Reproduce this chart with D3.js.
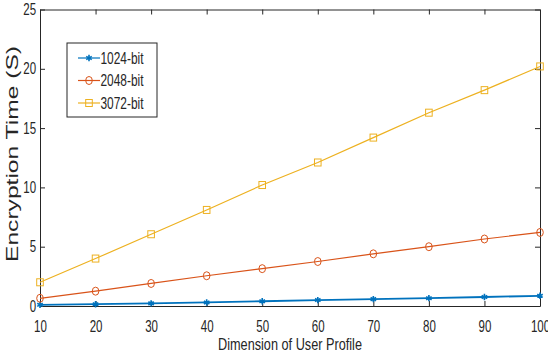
<!DOCTYPE html>
<html>
<head>
<meta charset="utf-8">
<script src="https://cdn.jsdelivr.net/npm/d3@7"></script>
<style>
  body { margin: 0; background: #fff; }
  text { font-family: "Liberation Sans", Arial, sans-serif; fill: #262626; }
</style>
</head>
<body>
<div id="chart"></div>
<script>
const dims = [10, 20, 30, 40, 50, 60, 70, 80, 90, 100];
const bit1024 = [0.1, 0.15, 0.22, 0.3, 0.4, 0.5, 0.58, 0.66, 0.76, 0.86];
const bit2048 = [0.65, 1.25, 1.9, 2.55, 3.15, 3.75, 4.4, 5.0, 5.65, 6.2];
const bit3072 = [2.0, 4.0, 6.05, 8.1, 10.2, 12.1, 14.2, 16.3, 18.2, 20.2];
const seriesNames = ["1024-bit", "2048-bit", "3072-bit"];
const colors = ["#0072BD", "#D95319", "#EDB120"];
const yTicks = [0, 5, 10, 15, 20, 25];

const width = 548, height = 362;
const margin = { top: 9.5, right: 8, bottom: 56, left: 40 };

const svg = d3.select("#chart").append("svg")
  .attr("width", width)
  .attr("height", height);

const x = d3.scaleLinear().domain([10, 100]).range([margin.left, width - margin.right]);
const y = d3.scaleLinear().domain([0, 25]).range([height - margin.bottom, margin.top]);

// axes, MATLAB style box with inward ticks; narrow tick labels
const axisColor = "#262626";
const squeeze = g => g.selectAll("text").style("font-size", "16px").attr("transform", "scale(0.72,1)");
svg.append("g")
  .attr("transform", `translate(0,${y(0)})`)
  .call(d3.axisBottom(x).tickValues(dims).tickSizeInner(-5).tickSizeOuter(0).tickPadding(15))
  .call(squeeze);
svg.append("g")
  .attr("transform", `translate(0,${y(25)})`)
  .call(d3.axisTop(x).tickValues(dims).tickSizeInner(-5).tickSizeOuter(0).tickFormat(""));
svg.append("g")
  .attr("transform", `translate(${x(10)},0)`)
  .call(d3.axisLeft(y).tickValues(yTicks).tickSizeInner(-5).tickSizeOuter(0).tickPadding(5.5))
  .call(squeeze);
svg.append("g")
  .attr("transform", `translate(${x(100)},0)`)
  .call(d3.axisRight(y).tickValues(yTicks).tickSizeInner(-5).tickSizeOuter(0).tickFormat(""));
svg.selectAll(".domain, .tick line").attr("stroke", axisColor);

// labels
svg.append("text")
  .attr("x", 290)
  .attr("y", 350)
  .attr("text-anchor", "middle")
  .attr("textLength", 144)
  .attr("lengthAdjust", "spacingAndGlyphs")
  .style("font-size", "17px")
  .text("Dimension of User Profile");
svg.append("text")
  .attr("transform", "translate(18,154) rotate(-90)")
  .attr("text-anchor", "middle")
  .attr("textLength", 216)
  .attr("lengthAdjust", "spacingAndGlyphs")
  .style("font-size", "16.5px")
  .text("Encryption Time (S)");

const allSeries = [bit1024, bit2048, bit3072];
const line = d3.line().x((d, i) => x(dims[i])).y(d => y(d));

function drawMarker(g, type, cx, cy, color) {
  if (type === 0) {
    g.append("path")
      .attr("d", d3.symbol().type(d3.symbolAsterisk).size(28)())
      .attr("transform", `translate(${cx},${cy})`)
      .attr("fill", "none").attr("stroke", color).attr("stroke-width", 1.6);
  } else if (type === 1) {
    g.append("ellipse")
      .attr("cx", cx).attr("cy", cy).attr("rx", 3.3).attr("ry", 4)
      .attr("fill", "none").attr("stroke", color).attr("stroke-width", 1);
  } else {
    g.append("rect")
      .attr("x", cx - 3.3).attr("y", cy - 3.5).attr("width", 6.6).attr("height", 7)
      .attr("fill", "none").attr("stroke", color).attr("stroke-width", 1);
  }
}

allSeries.forEach((s, k) => {
  const g = svg.append("g");
  g.append("path")
    .datum(s)
    .attr("d", line)
    .attr("fill", "none")
    .attr("stroke", colors[k])
    .attr("stroke-width", k === 0 ? 1.8 : 1.2);
  s.forEach((v, i) => drawMarker(g, k, x(dims[i]), y(v), colors[k]));
});

// legend
const legend = svg.append("g");
legend.append("rect")
  .attr("x", 67).attr("y", 43).attr("width", 90).attr("height", 74)
  .attr("fill", "#fff").attr("stroke", axisColor).attr("stroke-width", 1);
seriesNames.forEach((name, k) => {
  const ly = 58 + k * 22.5;
  legend.append("line")
    .attr("x1", 78).attr("x2", 100).attr("y1", ly).attr("y2", ly)
    .attr("stroke", colors[k]).attr("stroke-width", 1.2);
  drawMarker(legend, k, 89, ly, colors[k]);
  legend.append("text")
    .attr("x", 100.5).attr("y", ly + 5.5)
    .attr("textLength", 43)
    .attr("lengthAdjust", "spacingAndGlyphs")
    .style("font-size", "16px")
    .text(name);
});
</script>
</body>
</html>
